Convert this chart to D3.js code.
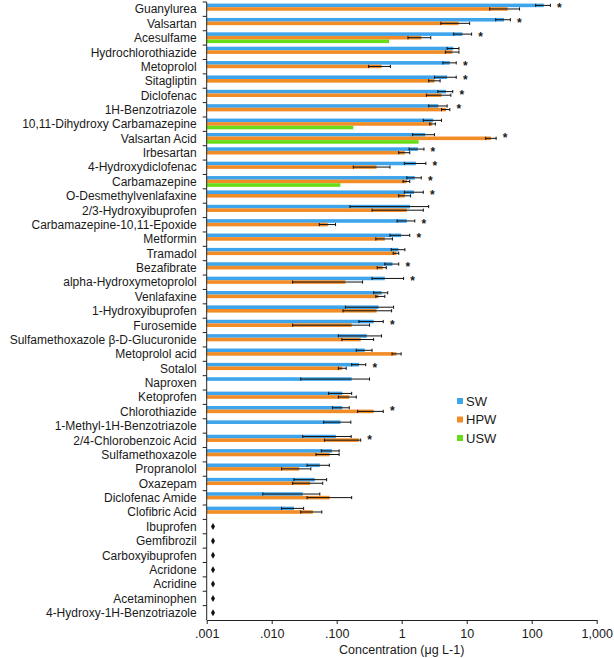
<!DOCTYPE html>
<html>
<head>
<meta charset="utf-8">
<script src="https://cdn.jsdelivr.net/npm/d3@7"></script>
<style>
html,body{margin:0;padding:0;background:#fff;}
text{font-family:"Liberation Sans",Arial,sans-serif;fill:#1a1a1a;}
</style>
</head>
<body>
<svg id="chart" width="614" height="658"></svg>
<script>
const categories = ["Guanylurea","Valsartan","Acesulfame","Hydrochlorothiazide","Metoprolol","Sitagliptin","Diclofenac","1H-Benzotriazole","10,11-Dihydroxy Carbamazepine","Valsartan Acid","Irbesartan","4-Hydroxydiclofenac","Carbamazepine","O-Desmethylvenlafaxine","2/3-Hydroxyibuprofen","Carbamazepine-10,11-Epoxide","Metformin","Tramadol","Bezafibrate","alpha-Hydroxymetoprolol","Venlafaxine","1-Hydroxyibuprofen","Furosemide","Sulfamethoxazole β-D-Glucuronide","Metoprolol acid","Sotalol","Naproxen","Ketoprofen","Chlorothiazide","1-Methyl-1H-Benzotriazole","2/4-Chlorobenzoic Acid","Sulfamethoxazole","Propranolol","Oxazepam","Diclofenac Amide","Clofibric Acid","Ibuprofen","Gemfibrozil","Carboxyibuprofen","Acridone","Acridine","Acetaminophen","4-Hydroxy-1H-Benzotriazole"];

const seriesNames = ["SW","HPW","USW"];

const swVal = [153,37.5,8.6,6.2,5.5,5.0,4.8,3.65,3.05,2.3,1.77,1.65,1.59,1.55,1.34,1.2,0.98,0.89,0.72,0.55,0.49,0.44,0.37,0.29,0.27,0.22,0.17,0.122,0.122,0.114,0.097,0.084,0.055,0.046,0.030,0.022,null,null,null,null,null,null,null];
const swLo  = [115,27.9,6.3,5.0,4.3,3.2,3.6,2.6,2.15,1.47,1.3,1.1,1.2,1.1,0.16,0.85,0.66,0.69,0.55,0.35,0.37,0.136,0.22,0.106,0.2,0.17,0.028,0.075,0.086,0.063,0.030,0.058,0.035,0.022,0.0073,0.0142,null,null,null,null,null,null,null];
const swHi  = [194,47,11.9,7.6,6.9,6.9,6.1,5.0,4.1,3.2,2.2,2.35,2.0,2.15,2.6,1.59,1.33,1.12,0.9,1.07,0.61,0.75,0.52,0.49,0.35,0.28,0.32,0.17,0.156,0.165,0.167,0.109,0.077,0.07,0.055,0.031,null,null,null,null,null,null,null];

const hpwVal = [42.7,7.5,2.0,6.0,0.49,3.2,4.1,4.8,2.95,23.7,1.12,0.41,1.2,1.12,1.2,0.073,0.55,0.83,0.51,0.136,0.44,0.41,0.17,0.234,0.83,0.122,null,0.156,0.37,null,0.22,0.078,0.0265,0.039,0.078,0.043,null,null,null,null,null,null,null];
const hpwLo  = [22.6,4.0,1.25,4.7,0.31,2.6,2.4,4.1,2.7,19.6,0.9,0.18,1.05,0.9,0.35,0.054,0.4,0.74,0.42,0.021,0.4,0.125,0.021,0.12,0.71,0.106,null,0.106,0.21,null,0.065,0.048,0.0142,0.021,0.035,0.028,null,null,null,null,null,null,null];
const hpwHi  = [65,11.1,2.8,7.6,0.67,3.9,5.7,5.5,3.3,28.4,1.33,0.66,1.33,1.37,2.15,0.096,0.72,0.9,0.58,0.25,0.55,0.7,0.32,0.37,0.98,0.14,null,0.2,0.52,null,0.234,0.109,0.040,0.061,0.17,0.059,null,null,null,null,null,null,null];

const uswVal = [null,null,0.64,null,null,null,null,null,0.18,1.82,null,null,0.114,null,null,null,null,null,null,null,null,null,null,null,null,null,null,null,null,null,null,null,null,null,null,null,null,null,null,null,null,null,null];

const significant = ["Guanylurea","Valsartan","Acesulfame","Metoprolol","Sitagliptin","Diclofenac","1H-Benzotriazole","Valsartan Acid","Irbesartan","4-Hydroxydiclofenac","Carbamazepine","O-Desmethylvenlafaxine","Carbamazepine-10,11-Epoxide","Metformin","Bezafibrate","alpha-Hydroxymetoprolol","Furosemide","Sotalol","Chlorothiazide","2/4-Chlorobenzoic Acid"];
const notDetected = ["Ibuprofen","Gemfibrozil","Carboxyibuprofen","Acridone","Acridine","Acetaminophen","4-Hydroxy-1H-Benzotriazole"];
const ndMarkerValue = 0.00125;

const xTickValues = [0.001,0.01,0.1,1,10,100,1000];
const xTickLabels = [".001",".010",".100","1","10","100","1,000"];
const xTitle = "Concentration (μg L-1)";

const colors = {SW:"#3ea5ec", HPW:"#f28c26", USW:"#68dc18"};

const svg = d3.select("#chart");
const x = d3.scaleLog().domain([0.001,1000]).range([206.7,596.7]);
const y = d3.scaleBand().domain(categories).range([2,620]).paddingInner(0).paddingOuter(0);
const bw = y.bandwidth();
const slot = d3.scaleBand().domain(seriesNames).range([bw*0.11, bw*0.11 + bw*0.75]).padding(0);

const series = [
  {name:"SW", val:swVal, lo:swLo, hi:swHi},
  {name:"HPW", val:hpwVal, lo:hpwLo, hi:hpwHi},
  {name:"USW", val:uswVal, lo:null, hi:null}
];

const plot = svg.append("g");

series.forEach(s => {
  const recs = categories.map((c,i)=>({c, v:s.val[i], lo:s.lo?s.lo[i]:null, hi:s.hi?s.hi[i]:null})).filter(d=>d.v!=null);
  plot.append("g").selectAll("rect").data(recs).join("rect")
    .attr("x", x(0.001))
    .attr("y", d => y(d.c) + slot(s.name))
    .attr("width", d => x(d.v) - x(0.001))
    .attr("height", slot.bandwidth())
    .attr("fill", colors[s.name]);
  const eb = recs.filter(d=>d.lo!=null);
  const g = plot.append("g").attr("stroke","#111").attr("stroke-width",1);
  eb.forEach(d => {
    const cy = y(d.c) + slot(s.name) + slot.bandwidth()/2;
    g.append("line").attr("x1", x(d.lo)).attr("x2", x(d.hi)).attr("y1", cy).attr("y2", cy);
    g.append("line").attr("x1", x(d.lo)).attr("x2", x(d.lo)).attr("y1", cy-1.6).attr("y2", cy+1.6);
    g.append("line").attr("x1", x(d.hi)).attr("x2", x(d.hi)).attr("y1", cy-1.6).attr("y2", cy+1.6);
  });
});

// significance asterisks
plot.append("g").selectAll("text").data(significant).join("text")
  .attr("x", c => {
    const i = categories.indexOf(c);
    const m = d3.max([swHi[i], hpwHi[i], swVal[i], hpwVal[i], uswVal[i]].filter(v=>v!=null));
    return x(m) + 9;
  })
  .attr("y", c => y(c) + slot("SW") + slot.bandwidth()/2 + 7)
  .attr("text-anchor","middle")
  .style("font-size","12px")
  .style("font-weight","bold")
  .text("*");

// not-detected diamonds
plot.append("g").selectAll("path").data(notDetected).join("path")
  .attr("transform", c => `translate(${x(ndMarkerValue)},${y(c)+bw/2})`)
  .attr("d", d3.symbol().type(d3.symbolDiamond).size(14))
  .attr("fill","#111");

// y axis
const yAxisG = svg.append("g");
yAxisG.append("line").attr("x1", x(0.001)).attr("x2", x(0.001)).attr("y1", y.range()[0]).attr("y2", y.range()[1]).attr("stroke","#222").attr("stroke-width",1);
yAxisG.selectAll("line.tk").data(categories).join("line").attr("class","tk")
  .attr("x1", x(0.001)-4).attr("x2", x(0.001))
  .attr("y1", c => y(c)).attr("y2", c => y(c))
  .attr("stroke","#222");
yAxisG.selectAll("text").data(categories).join("text")
  .attr("x", x(0.001) - 10)
  .attr("y", c => y(c) + bw/2)
  .attr("dy","0.35em")
  .attr("text-anchor","end")
  .style("font-size","12px")
  .text(c => c);

// x axis
const xAxis = d3.axisBottom(x).tickValues(xTickValues).tickFormat((d,i)=>xTickLabels[i]).tickSize(4).tickSizeOuter(0);
const xg = svg.append("g").attr("transform", `translate(0,${y.range()[1]})`).call(xAxis);
xg.select(".domain").attr("stroke","#222");
xg.selectAll(".tick line").attr("stroke","#222");
xg.selectAll(".tick text").attr("dy","0").attr("y", 18).style("font-size","12.5px").style("font-family","'Liberation Sans',Arial,sans-serif").attr("fill","#1a1a1a");

svg.append("text")
  .attr("x", (x.range()[0]+x.range()[1])/2)
  .attr("y", 654)
  .attr("text-anchor","middle")
  .style("font-size","12.5px")
  .text(xTitle);

// legend
const leg = svg.append("g").attr("transform","translate(457,401)");
seriesNames.forEach((n,i) => {
  const g = leg.append("g").attr("transform", `translate(0,${i*18.5})`);
  g.append("rect").attr("x",0).attr("y",-3).attr("width",6).attr("height",6).attr("fill",colors[n]);
  g.append("text").attr("x",9).attr("y",0).attr("dy","0.35em").style("font-size","13px").text(n);
});
</script>
</body>
</html>
